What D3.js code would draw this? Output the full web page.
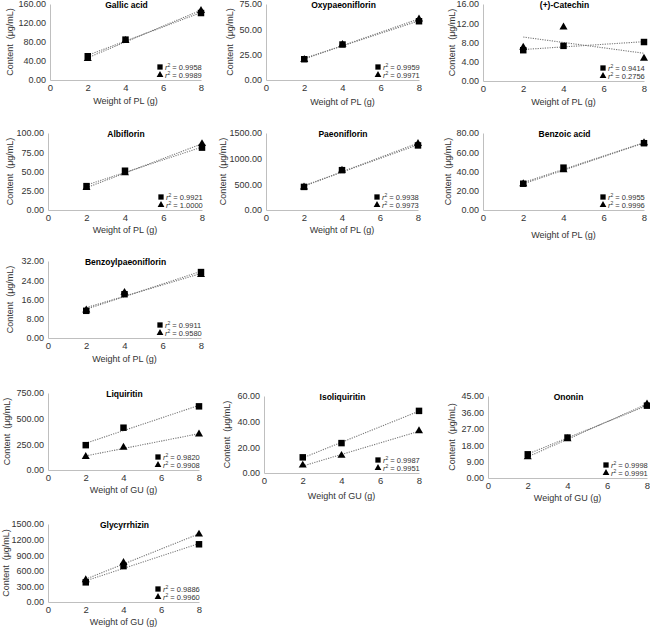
<!DOCTYPE html>
<html><head><meta charset="utf-8">
<script src="https://cdn.jsdelivr.net/npm/d3@7"></script>
<style>
html,body{margin:0;padding:0;background:#fff;}
svg{display:block;font-family:"Liberation Sans",Arial,sans-serif;}
</style></head>
<body>
<svg id="chart" width="650" height="629"></svg>
<script>
// ---- data ----
const compounds = ["Gallic acid","Oxypaeoniflorin","(+)-Catechin","Albiflorin","Paeoniflorin","Benzoic acid","Benzoylpaeoniflorin","Liquiritin","Isoliquiritin","Ononin","Glycyrrhizin"];
const herbs = ["PL","PL","PL","PL","PL","PL","PL","GU","GU","GU","GU"];
const weights = [2,4,8];
const squareValues = [
  [50,85,141],[20.5,35,58],[6.4,7.3,8.1],[31,51,81],[450,776,1258],[27.3,44,69.4],
  [11.3,18.2,27.4],[242,412,620],[12.2,23.3,48.4],[13,22.2,39.7],[378,690,1110]];
const triangleValues = [
  [45,83,146],[20,35,60],[7.0,11.2,4.7],[29,48,86],[445,770,1294],[27,41.6,69.6],
  [11.6,18.9,26.3],[130,221,350],[6,13.6,32.8],[11.5,21.5,40.5],[423,756,1302]];
const yTicks = [
  [0,40,80,120,160],[0,25,50,75],[0,4,8,12,16],[0,25,50,75,100],[0,500,1000,1500],[0,20,40,60,80],
  [0,8,16,24,32],[0,250,500,750],[0,20,40,60],[0,9,18,27,36,45],[0,300,600,900,1200,1500]];
const xTicks = [0,2,4,6,8];
const r2Square = ["0.9958","0.9959","0.9414","0.9921","0.9938","0.9955","0.9911","0.9820","0.9987","0.9998","0.9886"];
const r2Triangle = ["0.9989","0.9971","0.2756","1.0000","0.9973","0.9996","0.9580","0.9908","0.9951","0.9991","0.9960"];

// ---- layout (pixel placement of each panel) ----
// [left, right, top, bottom, yTitleOffset, xTitleOffset]
const layout = [
  [50,201,4,80,40,21],[266,419,4,80,36,22],[483,644,4,81,31,21],
  [48,202,133,210,38,20],[266,418,133,210,43,20],[483,644,133,210,35,25],
  [48,201,261,338,38,21],
  [48,199,393,470,41,20],[264,419,396,473,37,23],[488,647,396,478,36,20],
  [48,199,524,602,42,20]];

const svg = d3.select("#chart");

function fit(xs, ys){
  const mx=d3.mean(xs), my=d3.mean(ys);
  let sxy=0,sxx=0;
  xs.forEach((x,i)=>{sxy+=(x-mx)*(ys[i]-my); sxx+=(x-mx)*(x-mx);});
  const b=sxy/sxx; return x=>my+b*(x-mx);
}

compounds.forEach((name,i)=>{
  const [l,r,t,b,yOff,xOff] = layout[i];
  const ticks = yTicks[i];
  const x = d3.scaleLinear().domain([0,8]).range([l,r]);
  const y = d3.scaleLinear().domain([0,ticks[ticks.length-1]]).range([b,t]);
  const g = svg.append("g");

  // y axis
  const ya = g.append("g").attr("transform",`translate(${l},0)`)
    .call(d3.axisLeft(y).tickValues(ticks).tickSize(0).tickPadding(4).tickFormat(d3.format(".2f")));
  ya.select(".domain").attr("stroke","#bfbfbf");
  ya.selectAll("text").attr("font-size","9px").attr("fill","#333").attr("font-family",null);
  // x axis
  const xa = g.append("g").attr("transform",`translate(0,${b})`)
    .call(d3.axisBottom(x).tickValues(xTicks).tickSize(0).tickPadding(4));
  xa.select(".domain").attr("stroke","#bfbfbf");
  xa.selectAll("text").attr("font-size","9.5px").attr("fill","#333").attr("font-family",null);

  // titles
  g.append("text").attr("x",(l+r)/2+1).attr("y",t+4).attr("text-anchor","middle")
    .attr("font-size","8.5px").attr("font-weight","bold").attr("fill","#000").text(name);
  g.append("text").attr("x",(l+r)/2).attr("y",b+xOff+3).attr("text-anchor","middle")
    .attr("font-size","9px").attr("fill","#333").text(`Weight of ${herbs[i]} (g)`);
  g.append("text").attr("transform",`translate(${l-yOff+3},${(t+b)/2}) rotate(-90)`)
    .attr("text-anchor","middle").attr("font-size","9px").attr("fill","#333")
    .style("white-space","pre").text("Content  (μg/mL)");

  // trend lines
  const series = [
    {vals: triangleValues[i], sym: d3.symbolTriangle, size: 28},
    {vals: squareValues[i], sym: d3.symbolSquare, size: 42}];
  series.forEach(s=>{
    const f = fit(weights, s.vals);
    g.append("line").attr("x1",x(2)).attr("x2",x(8)).attr("y1",y(f(2))).attr("y2",y(f(8)))
      .attr("stroke","#777").attr("stroke-width",1.1).attr("stroke-dasharray","1.2,1.2");
  });
  series.forEach(s=>{
    g.selectAll(null).data(weights).enter().append("path")
      .attr("d", d3.symbol().type(s.sym).size(s.size))
      .attr("transform",(d,k)=>`translate(${x(d)},${y(s.vals[k])})`)
      .attr("fill","#000");
  });

  // legend
  const lx = r-41;
  const legend = [
    {sym: d3.symbolSquare, size: 28, dy: 13, txt: r2Square[i]},
    {sym: d3.symbolTriangle, size: 20, dy: 5, txt: r2Triangle[i]}];
  legend.forEach(e=>{
    g.append("path").attr("d", d3.symbol().type(e.sym).size(e.size))
      .attr("transform",`translate(${lx},${b-e.dy})`).attr("fill","#000");
    const tx = g.append("text").attr("x",lx+5).attr("y",b-e.dy+2.8)
      .attr("font-size","7.5px").attr("fill","#333");
    tx.append("tspan").attr("font-style","italic").text("r");
    tx.append("tspan").attr("font-size","5px").attr("dy",-2.5).text("2");
    tx.append("tspan").attr("dy",2.5).text(" = " + e.txt);
  });
});
</script>
</body></html>
